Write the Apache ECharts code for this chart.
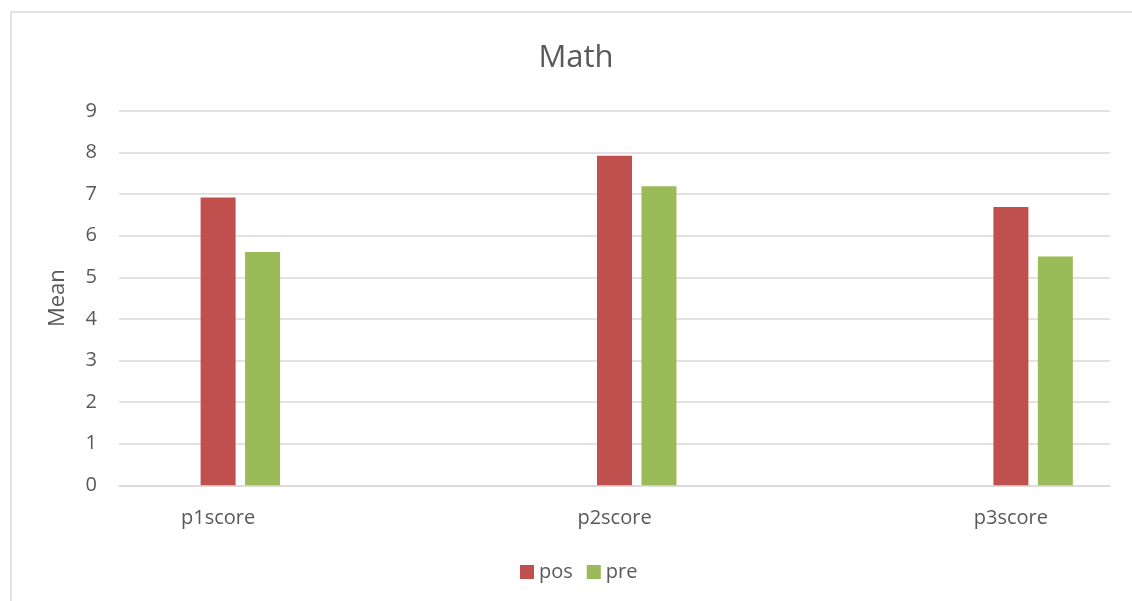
<!DOCTYPE html>
<html>
<head>
<meta charset="utf-8">
<title>Math</title>
<script src="https://cdn.jsdelivr.net/npm/echarts@6/dist/echarts.min.js"></script>
<style>
  html, body { margin: 0; padding: 0; background: #ffffff; }
  #chart { width: 1132px; height: 601px; }
</style>
</head>
<body>
<div id="chart"></div>
<script>
// Mean scores per test part
const categories = ['p1score', 'p2score', 'p3score'];
const posValues = [6.92, 7.92, 6.69];
const preValues = [5.61, 7.19, 5.50];
const yTicks = [0, 1, 2, 3, 4, 5, 6, 7, 8, 9];

// Categories are spaced with empty slots in between, as in the workbook layout
const axisCats = [];
const posData = [];
const preData = [];
const blankData = [];
categories.forEach(function (c, i) {
  if (i > 0) { axisCats.push(''); posData.push(null); preData.push(null); blankData.push(null); }
  axisCats.push(c);
  posData.push(posValues[i]);
  preData.push(preValues[i]);
  blankData.push(null);
});

const txt = '#595959';
const font = 'Open Sans';

const chart = echarts.init(document.getElementById('chart'), null, { renderer: 'canvas' });
chart.setOption({
  backgroundColor: '#ffffff',
  animation: false,
  textStyle: { fontFamily: font, color: txt },
  title: {
    text: 'Math',
    left: 571, top: 38, textAlign: 'center',
    textStyle: { fontFamily: font, fontSize: 31, fontWeight: 'normal', color: txt }
  },
  graphic: [{
    type: 'rect',
    shape: { x: 11, y: 12, width: 1200, height: 700 },
    style: { fill: 'none', stroke: '#d9d9d9', lineWidth: 1.5 },
    silent: true, z: -1
  }],
  legend: {
    data: ['pos', 'pre'],
    left: 515, top: 557,
    itemWidth: 14, itemHeight: 14, itemGap: 14,
    icon: 'rect',
    textStyle: { fontFamily: font, fontSize: 20, color: txt }
  },
  grid: { left: 119, right: 22, top: 110.9, bottom: 115.7 },
  xAxis: {
    type: 'category',
    data: axisCats,
    axisLine: { lineStyle: { color: '#d9d9d9', width: 1.5 } },
    axisTick: { show: false },
    axisLabel: { interval: 0, margin: 23, fontFamily: font, fontSize: 20, color: txt }
  },
  yAxis: {
    type: 'value',
    min: yTicks[0], max: yTicks[yTicks.length - 1], interval: 1,
    name: 'Mean', nameLocation: 'middle', nameGap: 50, nameRotate: 90,
    nameTextStyle: { fontFamily: font, fontSize: 22, color: txt },
    axisLine: { show: false },
    axisTick: { show: false },
    axisLabel: { margin: 22, fontFamily: font, fontSize: 20, color: txt },
    splitLine: { lineStyle: { color: '#d9d9d9', width: 1.5 } }
  },
  series: [
    { name: 'blank', type: 'bar', data: blankData, barWidth: 35, barGap: '27%' },
    { name: 'pos', type: 'bar', data: posData, barWidth: 35, barGap: '27%',
      itemStyle: { color: '#c0504d' } },
    { name: 'pre', type: 'bar', data: preData, barWidth: 35, barGap: '27%',
      itemStyle: { color: '#9bbb59' } }
  ]
});
</script>
</body>
</html>
